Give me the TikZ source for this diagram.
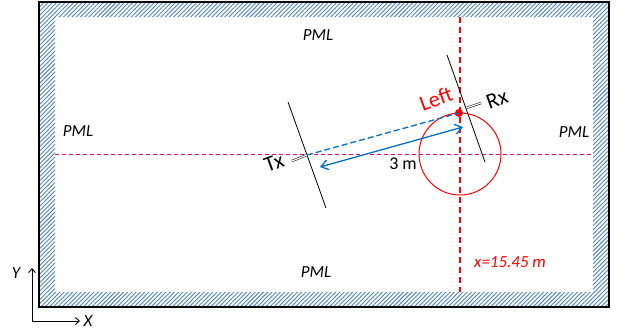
\documentclass[tikz,border=0pt]{standalone}
\usepackage{fontspec}
\setmainfont{Carlito}
\usetikzlibrary{arrows.meta,patterns.meta}
\definecolor{hatchblue}{RGB}{79,129,189}
\definecolor{arrowblue}{RGB}{0,112,192}

\begin{document}
\begin{tikzpicture}[x=1bp,y=-1bp,>={Straight Barb[length=7bp,width=10bp]}]
  \tikzstyle{pml}=[inner sep=1bp,font=\fontsize{17}{20}\selectfont\itshape]
  \tikzstyle{big}=[inner sep=0bp,font=\fontsize{22}{26}\selectfont,rotate=20]
  \tikzstyle{antenna}=[line width=0.8bp,black]
  \tikzstyle{feed}=[double,double distance=1.2bp,line width=0.5bp]
  \tikzstyle{axis}=[line width=0.9bp,-{Straight Barb[length=4bp,width=7bp]}]
  \useasboundingbox (0,0) rectangle (618,335);
  \fill[even odd rule,pattern={Lines[angle=45,distance=3bp,line width=0.9bp]},pattern color=hatchblue]
    (39,2) rectangle (609,307) (55,17) rectangle (593,292);
  \draw[line width=1.6bp] (39,2) rectangle (609,307);
  \node[pml] (pmltop) at (318,35) {PML};
  \node[pml] (pmlleft) at (78,131) {PML};
  \node[pml] (pmlright) at (574,132) {PML};
  \node[pml] (pmlbottom) at (316,272) {PML};
  \coordinate (xtop) at (460,17);
  \coordinate (xbot) at (460,292);
  \coordinate (midl) at (55,154);
  \coordinate (midr) at (593,154);
  \draw[magenta,line width=0.8bp,dash pattern=on 4bp off 3bp] (midl) -- (midr);
  \draw[red,line width=1.3bp,dash pattern=on 6bp off 4bp] (xtop) -- (xbot);
  \coordinate (c) at (460,154);
  \draw[red,line width=1bp] (c) circle (41);
  \coordinate (txa) at (288,102);
  \coordinate (txb) at (326,208);
  \coordinate (rxa) at (447,55);
  \coordinate (rxb) at (485,162);
  \draw[antenna] (txa) -- (txb);
  \draw[antenna] (rxa) -- (rxb);
  \coordinate (tx) at (307,155);
  \coordinate (txend) at (292,161);
  \coordinate (rx) at (466,108);
  \coordinate (rxend) at (481,103);
  \draw[feed] (tx) -- (txend);
  \draw[feed] (rx) -- (rxend);
  \coordinate (leftdot) at (459,113);
  \fill[red] (leftdot) circle (4);
  \draw[arrowblue,line width=1.3bp,dash pattern=on 6bp off 3bp] (tx) -- (leftdot);
  \coordinate (a1) at (320,167);
  \coordinate (a2) at (463,127);
  \draw[arrowblue,line width=1.3bp,<->] (a1) -- (a2);
  \node[inner sep=1bp,font=\fontsize{18}{20}\selectfont] (dist) at (403,164) {3 m};
  \node[big] (txlabel) at (274,163) {Tx};
  \node[big] (rxlabel) at (497,99) {Rx};
  \node[big,red] (leftlabel) at (436,99) {Left};
  \node[pml,red] (xlabel) at (510,262) {x=15.45 m};
  \coordinate (o) at (32,321);
  \coordinate (yend) at (32,268);
  \coordinate (xend) at (80,321);
  \draw[axis] (o) -- (yend);
  \draw[axis] (o) -- (xend);
  \node[pml] (ylabel) at (16,273) {Y};
  \node[pml] (xlabelaxis) at (88,321) {X};
\end{tikzpicture}
\end{document}
